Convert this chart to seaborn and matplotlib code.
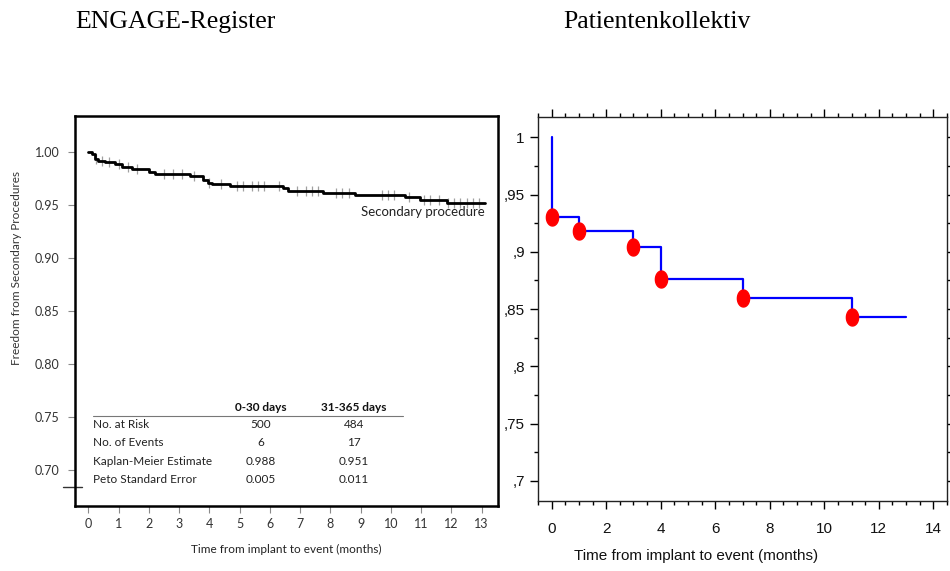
import numpy as np
import pandas as pd
import matplotlib
matplotlib.use("Agg")
import matplotlib.pyplot as plt
from matplotlib.ticker import MultipleLocator, FixedLocator, FixedFormatter
from matplotlib import font_manager
from matplotlib.path import Path
import seaborn as sns

# ---------------- data ----------------
# Left panel: ENGAGE registry Kaplan-Meier (freedom from secondary procedures)
engage_time = [0.0, 0.11, 0.22, 0.33, 0.55, 0.88, 1.10, 1.43, 1.99, 2.20, 3.36, 3.80,
               3.97, 4.08, 4.68, 6.45, 6.61, 7.77, 8.81, 10.47, 10.96, 11.84, 13.11]
engage_surv = [1.000, 0.998, 0.994, 0.992, 0.9905, 0.9886, 0.9864, 0.9842, 0.9814, 0.9795,
               0.9776, 0.9738, 0.9713, 0.9700, 0.9682, 0.9660, 0.9637, 0.9619, 0.9593,
               0.9574, 0.9549, 0.9524, 0.9524]
engage_censor = [0.25, 0.45, 0.7, 1.0, 1.3, 1.6, 2.5, 2.8, 3.1, 3.5, 4.0, 4.4, 4.9, 5.1,
                 5.4, 5.6, 5.8, 6.3, 6.9, 7.2, 7.4, 7.6, 8.2, 8.4, 8.6, 9.7, 9.9, 10.1,
                 10.6, 11.1, 11.3, 11.6, 11.9, 12.1, 12.3, 12.5, 12.7, 12.9]

table_rows = ["No. at Risk", "No. of Events", "Kaplan-Meier Estimate", "Peto Standard Error"]
table_cols = ["0-30 days", "31-365 days"]
table_vals = [["500", "484"], ["6", "17"], ["0.988", "0.951"], ["0.005", "0.011"]]

left_xticks = list(range(0, 14))
left_yticks = [0.70, 0.75, 0.80, 0.85, 0.90, 0.95, 1.00]

# Right panel: own patient collective
pat_time = [0, 0, 1, 3, 4, 7, 11, 13]
pat_surv = [1.000, 0.930, 0.918, 0.904, 0.876, 0.860, 0.843, 0.843]
event_time = [0, 1, 3, 4, 7, 11]
event_surv = [0.930, 0.918, 0.904, 0.876, 0.860, 0.843]

right_yticks = [0.70, 0.75, 0.80, 0.85, 0.90, 0.95, 1.00]
right_ylabels = [",7", ",75", ",8", ",85", ",9", ",95", "1"]
right_xticks = list(range(0, 15, 2))

titles = ["ENGAGE-Register", "Patientenkollektiv"]
xlabel = "Time from implant to event (months)"
left_ylabel = "Freedom from Secondary Procedures"
curve_label = "Secondary procedure"

# ---------------- figure ----------------
sns.set_theme(style="ticks")
plt.rcParams["font.family"] = ["Lato", "DejaVu Sans"]

installed = {f.name for f in font_manager.fontManager.ttflist}
if "Liberation Sans Narrow" in installed:
    rfont = ["Liberation Sans Narrow", "DejaVu Sans"]
    rsize_tick, rsize_lab = 12.5, 12.5
else:
    rfont = ["Liberation Sans", "DejaVu Sans"]
    rsize_tick, rsize_lab = 11, 11

fig = plt.figure(figsize=(9.5, 5.71), dpi=100)
W, H = 950, 571

def fx(px):
    return px / W

def fy(py):
    return 1 - py / H

# ---- left axes ----
axL = fig.add_axes([fx(75), fy(506), fx(498) - fx(75), fy(116) - fy(506)])
dfL = pd.DataFrame({"t": engage_time, "s": engage_surv})
sns.lineplot(data=dfL, x="t", y="s", ax=axL, color="black", lw=2.0,
             drawstyle="steps-post", estimator=None)
cens_y = [engage_surv[np.searchsorted(engage_time, c, side="right") - 1] for c in engage_censor]
sns.scatterplot(x=engage_censor, y=cens_y, ax=axL, marker="|", s=45, color="#a0a0a0",
                linewidth=0.9, zorder=1)
axL.set_xlim(-0.44, 13.54)
axL.set_ylim(0.6656, 1.0343)
axL.set_xticks(left_xticks)
axL.set_yticks(left_yticks)
axL.set_yticklabels([f"{v:.2f}" for v in left_yticks])
axL.tick_params(axis="both", direction="out", length=5, width=0.8, color="#8a8a8a",
                labelsize=9, labelcolor="#333333")
axL.tick_params(axis="y", pad=6)
for sp in axL.spines.values():
    sp.set_linewidth(1.8)
    sp.set_color("black")
axL.set_xlabel(xlabel, fontsize=8.5, color="#222222", labelpad=10)
axL.set_ylabel("")
fig.text(fx(17), fy(268), left_ylabel, rotation=90, ha="center", va="center",
         fontsize=8.5, color="#333333")
axL.text(13.1, 0.9435, curve_label, ha="right", va="center", fontsize=9.5, color="#222222")

# table inside the left panel
row_y = [0.7423, 0.7253, 0.7073, 0.6903]
head_y = 0.7583
col_x = [5.7, 8.77]
for j, c in enumerate(table_cols):
    axL.text(col_x[j], head_y, c, ha="center", va="center", fontsize=8.5,
             fontweight="bold", color="#111111")
axL.plot([0.15, 10.4], [0.7505, 0.7505], color="#777777", lw=0.8)
for i, r in enumerate(table_rows):
    axL.text(0.16, row_y[i], r, ha="left", va="center", fontsize=8.5, color="#222222")
    for j in range(2):
        axL.text(col_x[j], row_y[i], table_vals[i][j], ha="center", va="center",
                 fontsize=8.5, color="#222222")
# small dash artifact at the left border
axL.plot([-0.85, -0.2], [0.6836, 0.6836], color="#333333", lw=1.0, clip_on=False)

# ---- right axes ----
axR = fig.add_axes([fx(538), fy(501), fx(947) - fx(538), fy(117) - fy(501)])
dfR = pd.DataFrame({"t": pat_time, "s": pat_surv})
sns.lineplot(data=dfR, x="t", y="s", ax=axR, color="#0000ff", lw=1.6,
             drawstyle="steps-post", estimator=None, sort=False)
theta = np.linspace(0, 2 * np.pi, 40)
ellipse = Path(np.column_stack([0.72 * np.cos(theta), np.sin(theta)]), closed=True)
sns.scatterplot(x=event_time, y=event_surv, ax=axR, color="#ff0000", edgecolor="#ff0000",
                s=150, marker=ellipse, zorder=5)
axR.set_xlim(-0.5, 14.5)
axR.set_ylim(0.6825, 1.0177)
axR.xaxis.set_major_locator(FixedLocator(right_xticks))
axR.xaxis.set_minor_locator(MultipleLocator(0.5))
axR.yaxis.set_major_locator(FixedLocator(right_yticks))
axR.yaxis.set_major_formatter(FixedFormatter(right_ylabels))
axR.yaxis.set_minor_locator(MultipleLocator(0.025))
axR.tick_params(axis="both", which="both", direction="out", top=True, right=True,
                color="black", width=1.0)
axR.tick_params(which="major", length=6)
axR.tick_params(which="minor", length=3)
axR.tick_params(axis="both", which="major", labelsize=rsize_tick, labelcolor="#111111",
                labeltop=False, labelright=False)
axR.tick_params(axis="x", pad=9)
for sp in axR.spines.values():
    sp.set_linewidth(1.0)
    sp.set_color("#222222")
for lab in axR.get_xticklabels() + axR.get_yticklabels():
    lab.set_family(rfont)
axR.set_xlabel(xlabel, fontsize=rsize_lab, family=rfont, color="#111111", labelpad=2)
axR.xaxis.set_label_coords((696 - 538) / (947 - 538), -0.125)
axR.set_ylabel("")

# ---- titles ----
fig.text(fx(75), fy(22), titles[0], ha="left", va="center", fontsize=18.5,
         family=["Liberation Serif", "DejaVu Serif"], color="black")
fig.text(fx(563), fy(22), titles[1], ha="left", va="center", fontsize=18.5,
         family=["Liberation Serif", "DejaVu Serif"], color="black")

fig.savefig("out.png", dpi=100)
